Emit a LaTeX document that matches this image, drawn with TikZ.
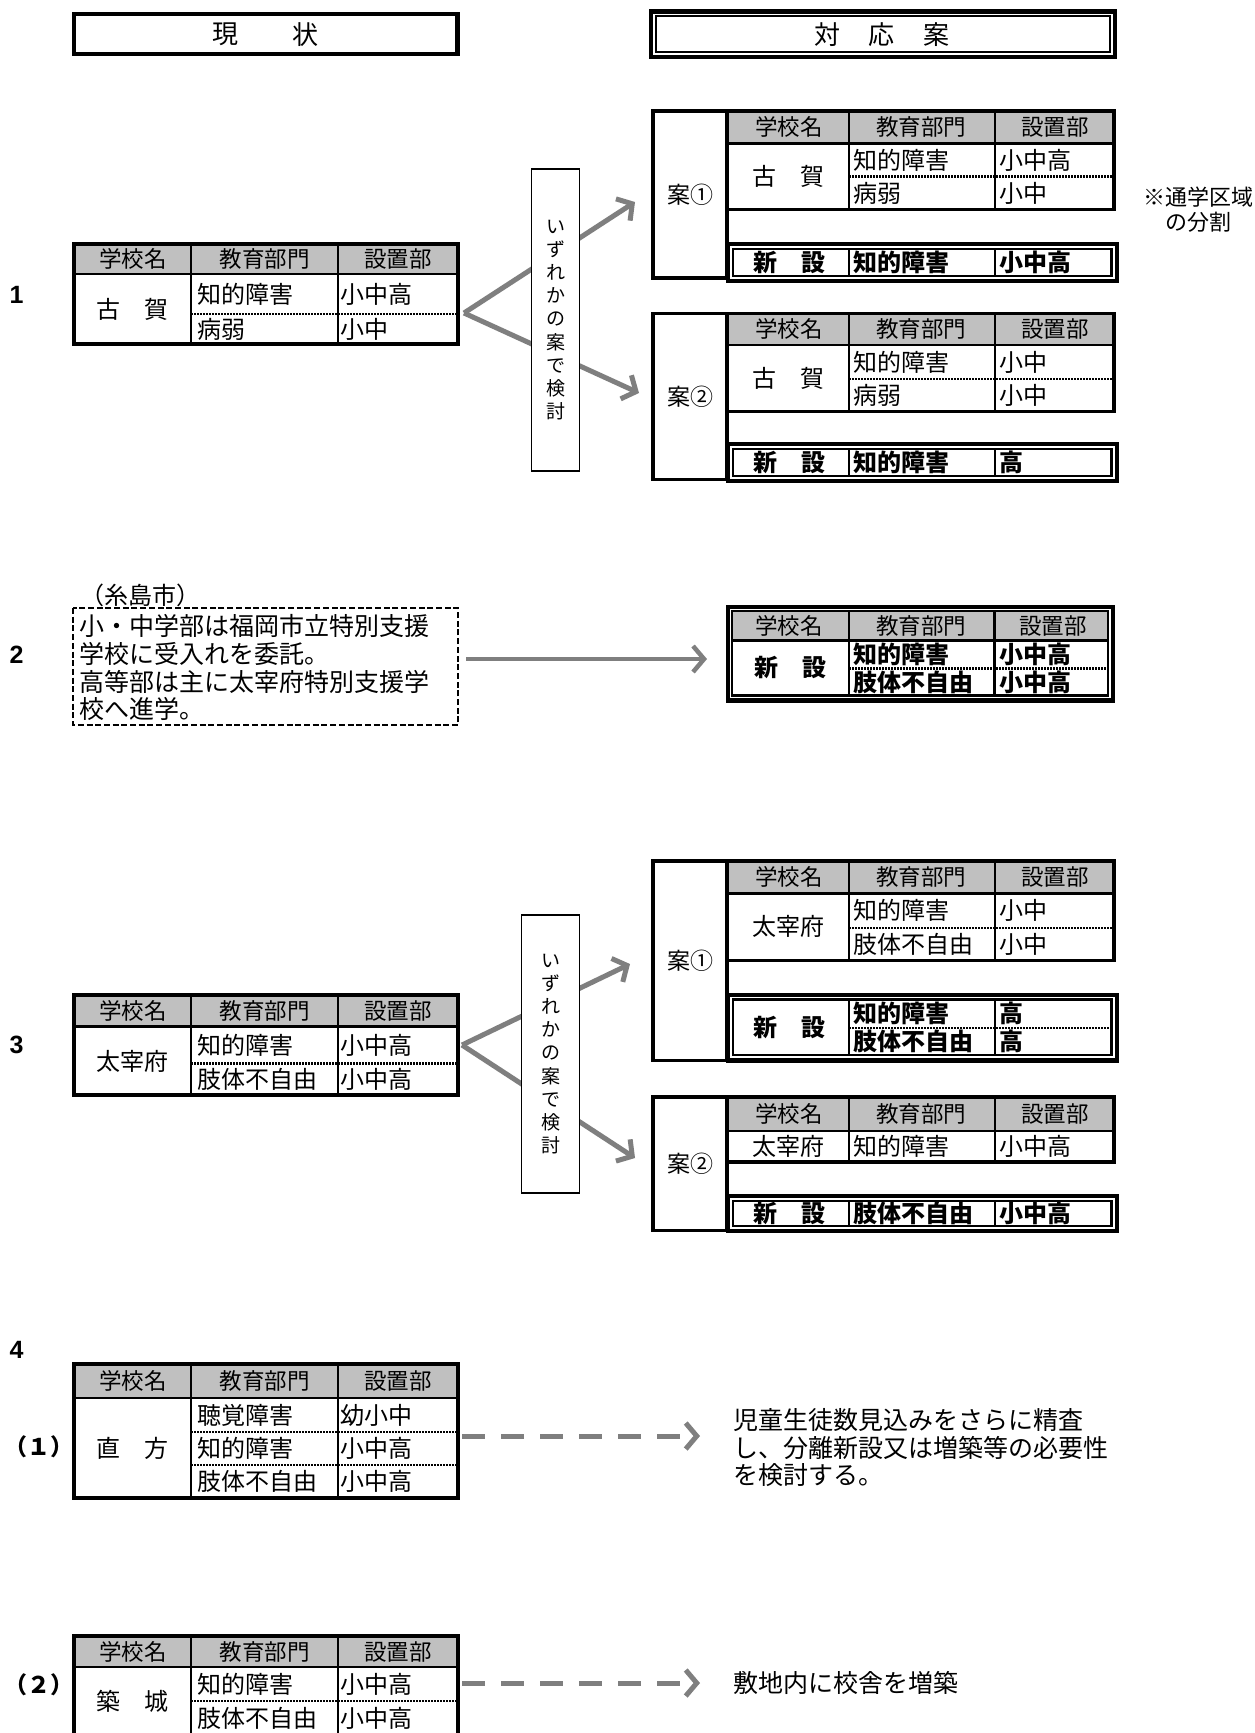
\documentclass[tikz,border=0pt]{standalone}
\usepackage{fontspec}
\setmainfont{Noto Sans CJK JP}
\newfontfamily\numfont{Liberation Sans}
\usetikzlibrary{arrows.meta}
\definecolor{hdrgray}{HTML}{C0C0C0}
\definecolor{arrgray}{HTML}{7F7F7F}
\tikzset{
  outerL/.style={line width=4.5pt},
  outerR/.style={line width=3.8pt},
  dblout/.style={line width=4.2pt},
  dblin/.style={line width=2.2pt},
  innerln/.style={line width=2.6pt},
  dotln/.style={line width=2.4pt, dash pattern=on 1.6pt off 1.4pt},
  hdrtxt/.style={inner sep=0pt, font=\fontsize{22.5}{22.5}\selectfont},
  dtxt/.style={inner sep=0pt, anchor=west, font=\fontsize{24}{24}\selectfont},
  dctr/.style={inner sep=0pt, font=\fontsize{24}{24}\selectfont},
  btxt/.style={inner sep=0pt, anchor=west, font=\fontsize{24}{24}\selectfont\bfseries},
  bctr/.style={inner sep=0pt, font=\fontsize{24}{24}\selectfont\bfseries},
  ttxt/.style={inner sep=0pt, font=\fontsize{26}{26}\selectfont},
  antxt/.style={inner sep=0pt, font=\fontsize{23}{23}\selectfont},
  ptxt/.style={inner sep=0pt, anchor=west, font=\fontsize{25}{25}\selectfont},
  rtxt/.style={inner sep=0pt, anchor=west, font=\fontsize{25}{25}\selectfont},
  ntxt/.style={inner sep=0pt, font=\fontsize{22}{22}\selectfont},
  secnum/.style={inner sep=0pt, font=\numfont\bfseries\fontsize{25}{25}\selectfont},
  subnum/.style={inner sep=0pt, font=\bfseries\fontsize{23}{23}\selectfont},
  vbox/.style={draw=black, line width=1.3pt, fill=white, inner sep=0pt, align=center, font=\fontsize{19}{23.1}\selectfont},
  garrow/.style={draw=arrgray, line width=5pt, -{Straight Barb[length=11pt,width=26pt]}},
  gdash/.style={draw=arrgray, line width=5pt, dash pattern=on 23pt off 16pt, -{Straight Barb[length=11pt,width=26pt]}},
}
\begin{document}
\begin{tikzpicture}[x=1pt,y=-1pt]
\useasboundingbox (0,0) rectangle (1255,1733);
\fill[white] (0,0) rectangle (1255,1733);

% ---------- titles ----------
\draw[line width=4.5pt] (74,13.8) rectangle (457.5,54);
\node[ttxt] (tA) at (225,34.5) {現};
\node[ttxt] (tB) at (305.5,34.5) {状};
\draw[line width=4.5pt] (651,11.3) rectangle (1115,57.2);
\draw[line width=2pt] (656,15.8) rectangle (1109.5,51.7);
\node[ttxt] (tC) at (827,34.5) {対};
\node[ttxt] (tD) at (881.5,34.5) {応};
\node[ttxt] (tE) at (936.5,34.5) {案};

% ---------- section 1 ----------
\node[secnum] (s1) at (16.5,295) {1};
% left table
\fill[hdrgray] (74,244) rectangle (458,274);
\node[hdrtxt] (a1) at (133,259) {学校名};
\node[hdrtxt] (a2) at (264.5,259) {教育部門};
\node[hdrtxt] (a3) at (398,259) {設置部};
\node[dctr] (a4) at (132,309) {古　賀};
\node[dtxt] (a5) at (197,294) {知的障害};
\node[dtxt] (a6) at (197,329) {病弱};
\node[dtxt] (a7) at (340,294) {小中高};
\node[dtxt] (a8) at (340,329) {小中};
\draw[dotln] (191,314) -- (458,314);
\draw[innerln] (74,274) -- (458,274) (191,244) -- (191,344) (338,244) -- (338,344);
\draw[outerL] (74,244) rectangle (458,344);

% arrows
\coordinate (v1) at (464,313);
\coordinate (u1) at (635,202);
\coordinate (d1) at (639,393);
\draw[garrow] (v1) -- (u1);
\draw[garrow] (v1) -- (d1);
\node[vbox, minimum width=48pt, minimum height=302pt] (q1) at (555.5,320) {い\\ず\\れ\\か\\の\\案\\で\\検\\討};

% plan 1
\fill[hdrgray] (727,111) rectangle (1114,143.3);
\node[hdrtxt] (b1) at (789,127) {学校名};
\node[hdrtxt] (b2) at (921,127) {教育部門};
\node[hdrtxt] (b3) at (1055,127) {設置部};
\node[dctr] (b4) at (788,176.5) {古　賀};
\node[dtxt] (b5) at (853.5,160) {知的障害};
\node[dtxt] (b6) at (853.5,193) {病弱};
\node[dtxt] (b7) at (999.5,160) {小中高};
\node[dtxt] (b8) at (999.5,193) {小中};
\draw[dotln] (849,176.5) -- (1114,176.5);
\draw[innerln] (727,143.3) -- (1114,143.3) (849,111) -- (849,209.5) (995,111) -- (995,209.5);
\draw[outerR] (727,111) rectangle (1114,209.5);
\draw[outerR] (653,111) rectangle (727,278);
\node[antxt] (b9) at (690,194.5) {案①};
\fill[white] (728,243.7) rectangle (1117,281);
\draw[dblout] (728,243.7) rectangle (1117,281);
\draw[dblin] (733,248.7) rectangle (1111.5,276);
\draw[innerln] (849,248.7) -- (849,276) (995,248.7) -- (995,276);
\node[bctr] (b10) at (789,262.3) {新　設};
\node[btxt] (b11) at (853.5,262.3) {知的障害};
\node[btxt] (b12) at (999.5,262.3) {小中高};
\node[ntxt] (nt1) at (1198,197) {※通学区域};
\node[ntxt] (nt2) at (1198,222) {の分割};

% plan 2
\fill[hdrgray] (727,313.5) rectangle (1114,345);
\node[hdrtxt] (c1) at (789,329) {学校名};
\node[hdrtxt] (c2) at (921,329) {教育部門};
\node[hdrtxt] (c3) at (1055,329) {設置部};
\node[dctr] (c4) at (788,378) {古　賀};
\node[dtxt] (c5) at (853.5,362) {知的障害};
\node[dtxt] (c6) at (853.5,395) {病弱};
\node[dtxt] (c7) at (999.5,362) {小中};
\node[dtxt] (c8) at (999.5,395) {小中};
\draw[dotln] (849,379) -- (1114,379);
\draw[innerln] (727,345) -- (1114,345) (849,313.5) -- (849,411.5) (995,313.5) -- (995,411.5);
\draw[outerR] (727,313.5) rectangle (1114,411.5);
\draw[outerR] (653,313.5) rectangle (727,479.5);
\node[antxt] (c9) at (690,396.5) {案②};
\fill[white] (728,443.7) rectangle (1117,481);
\draw[dblout] (728,443.7) rectangle (1117,481);
\draw[dblin] (733,448.7) rectangle (1111.5,476);
\draw[innerln] (849,448.7) -- (849,476) (995,448.7) -- (995,476);
\node[bctr] (c10) at (789,462.3) {新　設};
\node[btxt] (c11) at (853.5,462.3) {知的障害};
\node[btxt] (c12) at (999.5,462.3) {高};

% ---------- section 2 ----------
\node[secnum] (s2) at (16.5,655) {2};
\node[inner sep=0pt, anchor=west, font=\fontsize{24}{24}\selectfont] (e0) at (80,595) {（糸島市）};
\draw[line width=2pt, dash pattern=on 6pt off 2.7pt] (73,608) rectangle (458,725);
\node[ptxt] (e1) at (79,626) {小・中学部は福岡市立特別支援};
\node[ptxt] (e2) at (79,654) {学校に受入れを委託。};
\node[ptxt] (e3) at (79,681.5) {高等部は主に太宰府特別支援学};
\node[ptxt] (e4) at (79,709) {校へ進学。};
\coordinate (v2) at (466,659);
\coordinate (w2) at (707,659);
\draw[garrow, line width=4.5pt] (v2) -- (w2);
% new table
\fill[hdrgray] (732,611.3) rectangle (1108,640.7);
\node[hdrtxt] (f1) at (789,626) {学校名};
\node[hdrtxt] (f2) at (921,626) {教育部門};
\node[hdrtxt] (f3) at (1053,626) {設置部};
\node[bctr] (f4) at (790,668) {新　設};
\node[btxt] (f5) at (853.5,654.5) {知的障害};
\node[btxt] (f6) at (853.5,682) {肢体不自由};
\node[btxt] (f7) at (999.5,654.5) {小中高};
\node[btxt] (f8) at (999.5,682) {小中高};
\draw[dotln] (849,668.3) -- (1108,668.3);
\draw[innerln] (732,640.7) -- (1108,640.7) (849,611.3) -- (849,695.5) (994.7,611.3) -- (994.7,695.5);
\draw[dblin] (732,611.3) rectangle (1108,695.5);
\draw[dblout] (728,607) rectangle (1113,700.5);

% ---------- section 3 ----------
\node[secnum] (s3) at (16.5,1045) {3};
\fill[hdrgray] (74,995) rectangle (458,1026.5);
\node[hdrtxt] (g1) at (133,1011) {学校名};
\node[hdrtxt] (g2) at (264.5,1011) {教育部門};
\node[hdrtxt] (g3) at (398,1011) {設置部};
\node[dctr] (g4) at (132,1061) {太宰府};
\node[dtxt] (g5) at (197,1045) {知的障害};
\node[dtxt] (g6) at (197,1079) {肢体不自由};
\node[dtxt] (g7) at (340,1045) {小中高};
\node[dtxt] (g8) at (340,1079) {小中高};
\draw[dotln] (191,1063.5) -- (458,1063.5);
\draw[innerln] (74,1026.5) -- (458,1026.5) (191,995) -- (191,1095) (338,995) -- (338,1095);
\draw[outerL] (74,995) rectangle (458,1095);

\coordinate (v3) at (462,1045);
\coordinate (u3) at (630,964);
\coordinate (d3) at (635,1158);
\draw[garrow] (v3) -- (u3);
\draw[garrow] (v3) -- (d3);
\node[vbox, minimum width=58.5pt, minimum height=278pt] (q3) at (550.5,1054) {い\\ず\\れ\\か\\の\\案\\で\\検\\討};

% plan 1
\fill[hdrgray] (727,861.3) rectangle (1114,893.3);
\node[hdrtxt] (h1) at (789,877.3) {学校名};
\node[hdrtxt] (h2) at (921,877.3) {教育部門};
\node[hdrtxt] (h3) at (1055,877.3) {設置部};
\node[dctr] (h4) at (788,926.5) {太宰府};
\node[dtxt] (h5) at (853.5,910.6) {知的障害};
\node[dtxt] (h6) at (853.5,944.2) {肢体不自由};
\node[dtxt] (h7) at (999.5,910.6) {小中};
\node[dtxt] (h8) at (999.5,944.2) {小中};
\draw[dotln] (849,928) -- (1114,928);
\draw[innerln] (727,893.3) -- (1114,893.3) (849,861.3) -- (849,960.5) (995,861.3) -- (995,960.5);
\draw[outerR] (727,861.3) rectangle (1114,960.5);
\draw[outerR] (653,861.3) rectangle (727,1060.5);
\node[antxt] (h9) at (690,961) {案①};
\fill[white] (728,994.7) rectangle (1117,1060.5);
\draw[dblout] (728,994.7) rectangle (1117,1060.5);
\draw[dblin] (733,999.5) rectangle (1111.5,1055.3);
\draw[dotln] (849,1028) -- (1111.5,1028);
\draw[innerln] (849,999.5) -- (849,1055.3) (995,999.5) -- (995,1055.3);
\node[bctr] (h10) at (789,1027.5) {新　設};
\node[btxt] (h11) at (853.5,1013.7) {知的障害};
\node[btxt] (h12) at (853.5,1041.7) {肢体不自由};
\node[btxt] (h13) at (999.5,1013.7) {高};
\node[btxt] (h14) at (999.5,1041.7) {高};

% plan 2
\fill[hdrgray] (727,1097) rectangle (1114,1131);
\node[hdrtxt] (k1) at (789,1114) {学校名};
\node[hdrtxt] (k2) at (921,1114) {教育部門};
\node[hdrtxt] (k3) at (1055,1114) {設置部};
\node[dctr] (k4) at (788,1146.7) {太宰府};
\node[dtxt] (k5) at (853.5,1146.7) {知的障害};
\node[dtxt] (k6) at (999.5,1146.7) {小中高};
\draw[innerln] (727,1131) -- (1114,1131) (849,1097) -- (849,1162.3) (995,1097) -- (995,1162.3);
\draw[outerR] (727,1097) rectangle (1114,1162.3);
\draw[outerR] (653,1097) rectangle (727,1230.5);
\node[antxt] (k7) at (690,1164) {案②};
\fill[white] (728,1196) rectangle (1117,1231.3);
\draw[dblout] (728,1196) rectangle (1117,1231.3);
\draw[dblin] (733,1200.7) rectangle (1111.5,1226.3);
\draw[innerln] (849,1200.7) -- (849,1226.3) (995,1200.7) -- (995,1226.3);
\node[bctr] (k8) at (789,1213.5) {新　設};
\node[btxt] (k9) at (853.5,1213.5) {肢体不自由};
\node[btxt] (k10) at (999.5,1213.5) {小中高};

% ---------- section 4 ----------
\node[secnum] (s4) at (16.5,1350) {4};
\node[subnum] (s41) at (39,1447) {（１）};
\fill[hdrgray] (74,1364) rectangle (458,1398);
\node[hdrtxt] (m1) at (133,1381) {学校名};
\node[hdrtxt] (m2) at (264.5,1381) {教育部門};
\node[hdrtxt] (m3) at (398,1381) {設置部};
\node[dctr] (m4) at (132,1448) {直　方};
\node[dtxt] (m5) at (197,1415) {聴覚障害};
\node[dtxt] (m6) at (197,1448.5) {知的障害};
\node[dtxt] (m7) at (197,1481.5) {肢体不自由};
\node[dtxt] (m8) at (340,1415) {幼小中};
\node[dtxt] (m9) at (340,1448.5) {小中高};
\node[dtxt] (m10) at (340,1481.5) {小中高};
\draw[dotln] (191,1432) -- (458,1432) (191,1465) -- (458,1465);
\draw[innerln] (74,1398) -- (458,1398) (191,1364) -- (191,1498) (338,1364) -- (338,1498);
\draw[outerL] (74,1364) rectangle (458,1498);
\coordinate (v41) at (462,1436);
\coordinate (w41) at (700,1436);
\draw[gdash] (v41) -- (w41);
\node[rtxt] (r1) at (733,1420) {児童生徒数見込みをさらに精査};
\node[rtxt] (r2) at (733,1447.5) {し、分離新設又は増築等の必要性};
\node[rtxt] (r3) at (733,1475) {を検討する。};

\node[subnum] (s42) at (39,1685) {（２）};
\fill[hdrgray] (74,1636) rectangle (458,1667);
\node[hdrtxt] (p1) at (133,1651.5) {学校名};
\node[hdrtxt] (p2) at (264.5,1651.5) {教育部門};
\node[hdrtxt] (p3) at (398,1651.5) {設置部};
\node[dctr] (p4) at (132,1701) {築　城};
\node[dtxt] (p5) at (197,1684) {知的障害};
\node[dtxt] (p6) at (197,1718) {肢体不自由};
\node[dtxt] (p7) at (340,1684) {小中高};
\node[dtxt] (p8) at (340,1718) {小中高};
\draw[dotln] (191,1701) -- (458,1701);
\draw[innerln] (74,1667) -- (458,1667) (191,1636) -- (191,1745) (338,1636) -- (338,1745);
\draw[outerL] (74,1636) rectangle (458,1745);
\coordinate (v42) at (462,1683);
\coordinate (w42) at (700,1683);
\draw[gdash] (v42) -- (w42);
\node[rtxt] (r4) at (733,1683) {敷地内に校舎を増築};
\end{tikzpicture}
\end{document}
